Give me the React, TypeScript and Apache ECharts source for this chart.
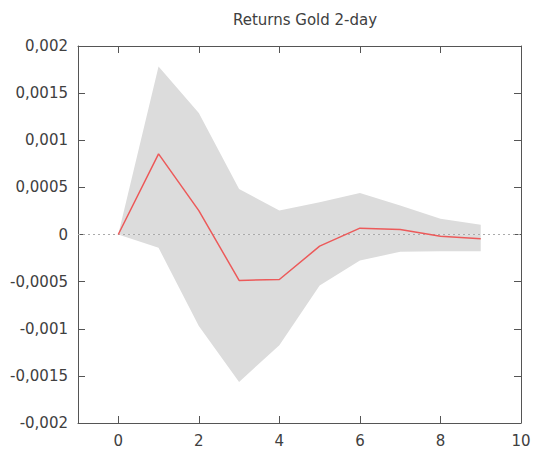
import React, { useEffect, useRef } from "react";
import * as echarts from "echarts";

const steps = [0, 1, 2, 3, 4, 5, 6, 7, 8, 9];
const response = [0, 0.000855, 0.000254, -0.000487, -0.000477, -0.000124, 0.000067, 0.000053, -0.000018, -0.000046];
const upperBand = [0, 0.001783, 0.001289, 0.000484, 0.000254, 0.000342, 0.000441, 0.000307, 0.000166, 0.000103];
const lowerBand = [0, -0.000141, -0.000971, -0.001564, -0.001176, -0.00054, -0.000275, -0.000184, -0.000177, -0.000177];
const titleText = "Returns Gold 2-day";

const fmtY = (v: number) => {
  const r = parseFloat(v.toFixed(6));
  return String(r).replace(".", ",");
};

export default function App() {
  const ref = useRef<HTMLDivElement>(null);
  useEffect(() => {
    document.body.style.margin = "0";
    if (!ref.current) return;
    const chart = echarts.init(ref.current, undefined, { renderer: "svg" });
    const font = "DejaVu Sans";
    const textColor = "#404040";
    const axisColor = "#555555";
    const bandColor = "#dcdcdc";
    const upperData = steps.map((s, i) => [s, upperBand[i]]);
    const lowerData = steps.map((s, i) => [s, lowerBand[i]]);
    const lineData = steps.map((s, i) => [s, response[i]]);
    const xCommon = {
      type: "value",
      min: -1,
      max: 10,
      splitNumber: 5,
      splitLine: { show: false },
      axisLine: { show: true, onZero: false, lineStyle: { color: axisColor, width: 1 } },
      axisTick: { show: true, inside: true, length: 7, lineStyle: { color: axisColor } },
    };
    const yCommon = {
      type: "value",
      min: -0.002,
      max: 0.002,
      interval: 0.0005,
      splitLine: { show: false },
      axisLine: { show: true, onZero: false, lineStyle: { color: axisColor, width: 1 } },
      axisTick: { show: true, inside: true, length: 7, lineStyle: { color: axisColor } },
    };
    const bandSeries = (data: number[][]) => ({
      type: "line",
      data,
      symbol: "none",
      lineStyle: { width: 0, opacity: 0 },
      areaStyle: { color: bandColor, opacity: 1, origin: 0 },
      silent: true,
      z: 1,
    });
    chart.setOption({
      animation: false,
      backgroundColor: "#ffffff",
      title: {
        text: titleText,
        left: 300,
        textAlign: "center",
        top: 7,
        textStyle: { fontFamily: font, fontSize: 15, fontWeight: "normal", color: textColor },
      },
      grid: { left: 78, right: 13, top: 46, bottom: 32 },
      xAxis: [
        {
          ...xCommon,
          position: "bottom",
          axisLabel: {
            show: true,
            showMinLabel: false,
            fontFamily: font,
            fontSize: 15,
            color: textColor,
            margin: 10,
          },
        },
        {
          ...xCommon,
          position: "top",
          axisLabel: { show: false },
        },
      ],
      yAxis: [
        {
          ...yCommon,
          position: "left",
          axisLabel: {
            show: true,
            fontFamily: font,
            fontSize: 15,
            color: textColor,
            margin: 10,
            formatter: fmtY,
          },
        },
        {
          ...yCommon,
          position: "right",
          axisLabel: { show: false },
        },
      ],
      series: [
        bandSeries(upperData),
        bandSeries(lowerData),
        {
          type: "line",
          data: lineData,
          symbol: "none",
          lineStyle: { color: "#ec5a5a", width: 1.5 },
          z: 3,
          markLine: {
            silent: true,
            symbol: "none",
            label: { show: false },
            lineStyle: { color: "#aaaaaa", type: [2, 3], width: 1 },
            data: [{ yAxis: 0 }],
            z: 2,
          },
        },
      ],
    });
    return () => chart.dispose();
  }, []);
  return <div ref={ref} style={{ width: 534, height: 455 }} />;
}
